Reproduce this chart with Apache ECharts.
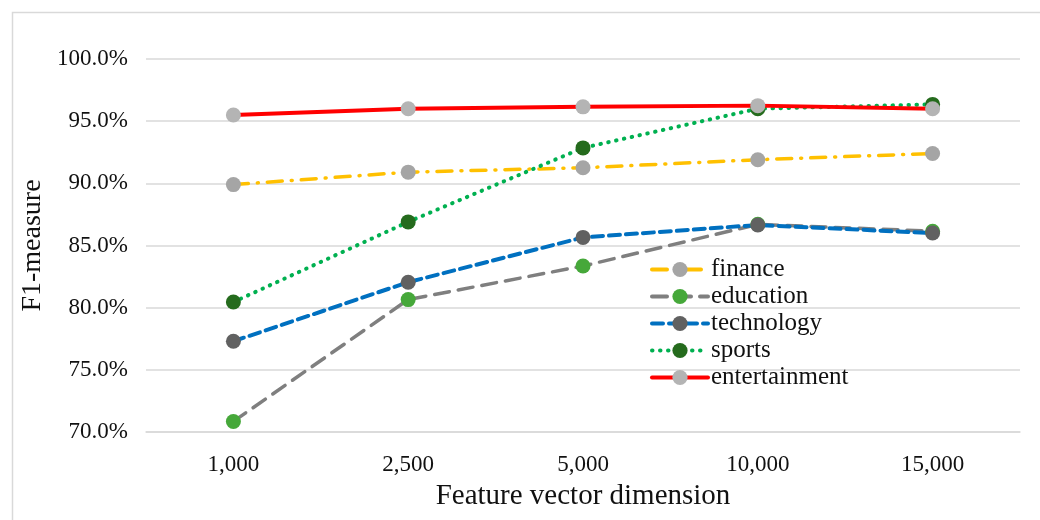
<!DOCTYPE html>
<html>
<head>
<meta charset="utf-8">
<script src="https://cdn.jsdelivr.net/npm/echarts@6/dist/echarts.min.js"></script>
<style>
  html, body { margin: 0; padding: 0; background: #fff; }
  #main { width: 1040px; height: 520px; }
</style>
</head>
<body>
<div id="main"></div>
<script>
// 数据
const dimensions = ["1,000", "2,500", "5,000", "10,000", "15,000"];
const finance = [89.9, 90.9, 91.25, 91.9, 92.4];
const education = [70.85, 80.65, 83.35, 86.7, 86.15];
const technology = [77.3, 82.05, 85.65, 86.65, 86.0];
const sports = [80.45, 86.9, 92.85, 96.0, 96.35];
const entertainment = [95.5, 96.0, 96.15, 96.25, 96.0];
const yTicks = { min: 70, max: 100, step: 5 };

const font = "'Liberation Serif', 'Times New Roman', serif";

function makeSeries(name, data, lineColor, markerColor, dash, width) {
  return {
    name: name,
    type: "line",
    data: data,
    symbol: "circle",
    symbolSize: 15,
    itemStyle: { color: markerColor, borderWidth: 0 },
    lineStyle: { color: lineColor, width: width, type: dash, cap: "round" },
    emphasis: { disabled: true },
    z: 2
  };
}

let myChart = echarts.init(document.getElementById("main"));
let option = {
  animation: false,
  backgroundColor: "#fff",
  graphic: [
    {
      type: "rect",
      shape: { x: 12.5, y: 12.5, width: 1100, height: 600 },
      style: { fill: "none", stroke: "#d9d9d9", lineWidth: 1.5 },
      silent: true
    }
  ],
  grid: { left: 146, right: 20, top: 59, bottom: 88 },
  legend: {
    orient: "vertical",
    left: 645,
    top: 252,
    itemWidth: 56,
    itemHeight: 19,
    itemGap: 2,
    lineStyle: { width: 4 },
    textStyle: { fontFamily: font, fontSize: 25, color: "#111", padding: [0, 0, 0, -2] },
    data: ["finance", "education", "technology", "sports", "entertainment"]
  },
  xAxis: {
    type: "category",
    data: dimensions,
    boundaryGap: true,
    name: "Feature vector dimension",
    nameLocation: "middle",
    nameGap: 50,
    nameTextStyle: { fontFamily: font, fontSize: 29, color: "#111" },
    axisLine: { lineStyle: { color: "#d9d9d9", width: 1.5 } },
    axisTick: { show: false },
    axisLabel: { fontFamily: font, fontSize: 23, color: "#111", margin: 21 }
  },
  yAxis: {
    type: "value",
    min: yTicks.min,
    max: yTicks.max,
    interval: yTicks.step,
    name: "F1-measure",
    nameLocation: "middle",
    nameGap: 96,
    nameTextStyle: { fontFamily: font, fontSize: 28, color: "#111" },
    axisLine: { show: false },
    axisTick: { show: false },
    splitLine: { lineStyle: { color: "#d9d9d9", width: 1.5 } },
    axisLabel: {
      fontFamily: font,
      fontSize: 23,
      color: "#111",
      margin: 18,
      formatter: v => v.toFixed(1) + "%"
    }
  },
  series: [
    makeSeries("finance", finance, "#FFC000", "#A5A5A5", [15, 9, 1, 9], 3.5),
    makeSeries("education", education, "#7F7F7F", "#46A83A", [15, 9], 3.5),
    makeSeries("technology", technology, "#0070C0", "#616161", [11, 6], 4),
    makeSeries("sports", sports, "#00B050", "#256B1D", [0.5, 7.5], 4),
    makeSeries("entertainment", entertainment, "#FF0000", "#B4B4B4", "solid", 4)
  ]
};
myChart.setOption(option);
</script>
</body>
</html>
